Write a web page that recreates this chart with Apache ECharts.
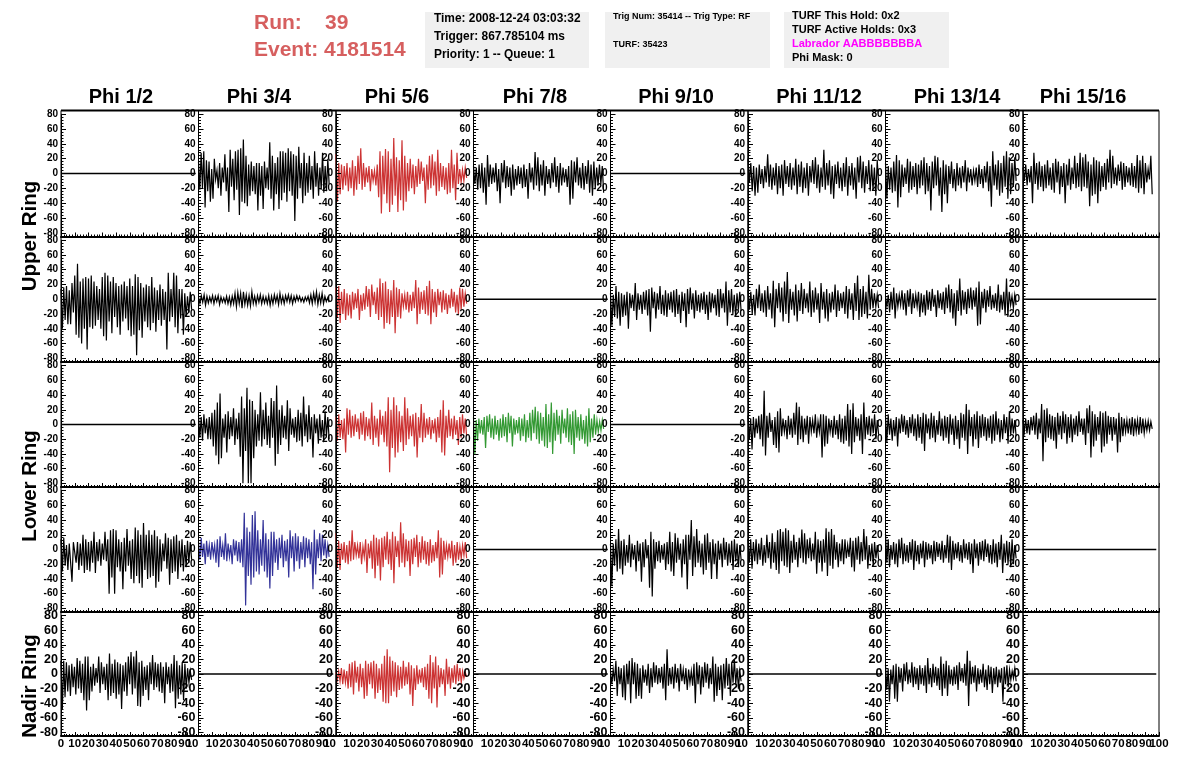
<!DOCTYPE html>
<html><head><meta charset="utf-8"><style>html,body{margin:0;padding:0;background:#fff}#c{width:1196px;height:772px}</style>
<script src="https://cdn.jsdelivr.net/npm/echarts@6/dist/echarts.min.js"></script></head><body><div id="c"></div>
<script>
const phiTitles=["Phi 1/2","Phi 3/4","Phi 5/6","Phi 7/8","Phi 9/10","Phi 11/12","Phi 13/14","Phi 15/16"];
const ringTitles=["Upper Ring","Lower Ring","Nadir Ring"];
const flat=[0,0];
const r1c2=[16,-22,28,-20,30,-46,18,-24,16,-38,6,-34,20,-8,4,-20,14,-30,8,-12,26,-24,8,-52,32,-18,20,-36,30,-22,32,-56,34,-38,46,-40,24,-44,12,-30,16,-24,10,-28,14,-50,14,-30,10,-48,16,-20,8,-22,42,-34,24,-50,14,-28,22,-48,30,-36,30,-26,28,-38,34,-24,30,-30,26,-64,24,-34,36,-20,14,-40,28,-30,14,-26,24,-22,10,-34,30,-18,14,-30,8,-22,28,-26,10,-24,20,-14];
const r1c3=[26,-38,14,-28,12,-22,10,-16,14,-24,8,-20,18,-30,10,-22,24,-14,34,-22,14,-18,8,-12,10,-24,6,-10,4,-16,12,-32,30,-54,24,-28,33,-40,30,-52,20,-42,48,-30,22,-52,18,-36,45,-50,24,-38,14,-24,20,-20,12,-28,10,-18,20,-14,16,-10,8,-40,12,-22,24,-20,26,-16,16,-30,32,-24,14,-18,10,-22,8,-28,14,-26,32,-20,12,-36,28,-14,6,-12,5,-10,8,-6];
const r1c4=[10,-14,8,-22,12,-20,14,-26,8,-42,25,-18,12,-14,8,-12,14,-24,6,-40,14,-12,18,-20,10,-18,8,-30,12,-22,6,-16,10,-14,8,-20,12,-18,6,-34,14,-12,8,-22,29,-16,22,-24,12,-16,18,-30,10,-14,6,-20,14,-12,22,-18,10,-26,14,-16,8,-12,6,-18,10,-42,18,-34,16,-12,22,-16,8,-20,14,-22,10,-14,18,-26,12,-30,16,-20,8,-16,12,-14,10,-26];
const r1c6=[20,-12,14,-24,10,-30,8,-26,12,-14,6,-20,10,-12,26,-18,12,-22,8,-16,14,-28,10,-20,12,-30,18,-14,10,-18,14,-22,8,-16,20,-28,12,-18,16,-26,8,-20,14,-30,10,-12,18,-14,22,-20,12,-26,8,-18,32,-22,14,-16,18,-28,10,-34,12,-14,16,-20,8,-24,14,-18,22,-30,10,-16,14,-22,8,-34,22,-12,24,-20,16,-26,10,-14,18,-24,12,-22,8,-30,18,-14];
const r1c7=[14,-34,10,-22,8,-26,16,-24,25,-46,18,-32,12,-18,8,-14,20,-26,16,-22,10,-18,14,-28,12,-20,18,-16,22,-28,14,-24,10,-50,16,-20,24,-16,22,-30,8,-52,18,-28,12,-40,10,-14,16,-20,6,-24,14,-16,8,-20,10,-12,18,-24,8,-12,6,-16,4,-10,8,-18,12,-14,6,-20,10,-12,16,-24,10,-45,30,-16,12,-22,18,-30,14,-26,24,-18,30,-34,22,-28,14,-18,22,-10];
const r1c8=[8,-10,12,-16,6,-12,10,-40,28,-14,14,-22,16,-18,10,-24,12,-20,18,-16,8,-22,14,-26,20,-12,16,-28,10,-18,14,-40,12,-16,20,-22,8,-14,24,-20,14,-18,28,-24,22,-18,26,-20,16,-44,12,-30,22,-28,18,-40,16,-24,10,-18,14,-22,20,-12,32,-20,24,-14,8,-16,12,-10,16,-22,14,-18,10,-12,8,-16,14,-18,10,-20,25,-26,18,-20,24,-28,14,-12,6,-8,24,-28];
const r2c1=[14,-40,16,-28,18,-34,12,-34,22,-18,32,-48,48,-52,24,-60,28,-40,30,-68,28,-38,32,-40,24,-36,18,-28,14,-40,30,-50,36,-56,32,-30,24,-46,30,-24,22,-38,18,-48,20,-30,24,-26,18,-42,28,-50,18,-48,34,-76,30,-42,22,-52,16,-30,20,-38,18,-42,30,-32,16,-44,12,-28,20,-36,14,-28,10,-68,36,-30,14,-24,36,-38,32,-46,14,-26,14,-48,8,-24,4,-18,10,-14];
const r2c2=[3,-6,5,-4,6,-8,4,-5,3,-4,5,-6,4,-3,5,-7,3,-4,2,-5,4,-6,3,-8,4,-6,8,-10,9,-6,8,-12,10,-7,6,-8,5,-9,10,-6,4,-7,5,-4,6,-6,4,-5,3,-6,5,-8,4,-6,6,-4,5,-7,8,-5,4,-6,5,-3,6,-4,5,-6,4,-3,5,-2,4,-3,2,-4,3,-2,4,-5,6,-6,8,-4,10,-7,6,-5,8,-6,4,-3,2,-4];
const r2c3=[16,-24,18,-32,10,-20,14,-28,8,-22,6,-26,10,-14,8,-12,14,-28,6,-16,8,-14,18,-10,14,-24,20,-8,10,-20,16,-28,28,-24,22,-40,24,-32,14,-34,12,-24,26,-46,16,-24,14,-26,8,-10,6,-14,10,-18,6,-16,10,-12,26,-34,16,-20,10,-14,12,-20,18,-22,25,-34,14,-18,10,-24,14,-8,10,-18,12,-14,8,-20,6,-12,14,-10,10,-18,6,-20,16,-14,14,-10,8,-6];
const r2c5=[8,-36,6,-24,18,-26,10,-36,8,-24,6,-22,10,-40,8,-12,6,-16,22,-28,8,-14,6,-20,10,-14,12,-22,14,-44,16,-12,10,-26,8,-14,18,-20,6,-22,12,-24,8,-14,10,-18,12,-24,14,-20,6,-32,10,-16,8,-38,14,-20,16,-14,8,-26,12,-16,6,-18,8,-14,10,-20,6,-28,10,-18,8,-12,6,-22,14,-24,14,-12,8,-18,24,-36,12,-18,14,-20,6,-24,8,-14,10,-16];
const r2c6=[12,-14,10,-20,6,-22,14,-12,20,-16,8,-18,12,-24,18,-14,8,-26,25,-38,14,-12,22,-18,16,-30,24,-20,37,-32,14,-14,10,-22,20,-30,12,-16,22,-20,14,-12,8,-18,24,-24,12,-18,16,-14,8,-32,22,-14,10,-26,14,-30,8,-18,10,-14,20,-24,12,-16,8,-12,10,-20,18,-26,14,-14,8,-28,22,-16,32,-28,14,-24,18,-20,10,-26,33,-14,14,-12,8,-10,6,-12];
const r2c7=[4,-10,6,-18,10,-14,16,-26,8,-10,6,-8,12,-14,8,-22,12,-10,14,-20,8,-12,6,-10,10,-24,8,-18,6,-22,12,-14,10,-16,14,-10,6,-24,12,-12,8,-14,10,-20,16,-12,20,-18,14,-26,8,-36,12,-16,28,-22,12,-14,10,-20,14,-12,16,-14,12,-10,16,-36,24,-34,10,-12,14,-18,12,-10,18,-14,6,-12,8,-16,20,-18,6,-14,10,-22,28,-24,10,-8,4,-12,6,-8];
const r3c2=[12,-18,10,-22,14,-12,8,-20,10,-20,16,-30,20,-42,30,-54,42,-46,8,-18,14,-38,18,-20,10,-16,22,-28,8,-20,16,-44,38,-80,22,-36,50,-80,34,-80,32,-46,20,-30,14,-22,44,-30,20,-20,30,-28,12,-32,36,-18,32,-56,53,-40,20,-28,26,-18,12,-20,33,-36,22,-14,8,-18,10,-24,20,-22,16,-30,38,-16,14,-24,26,-20,10,-45,14,-12,8,-26,14,-18,6,-24,18,-16,10,-20];
const r3c3=[10,-22,14,-18,6,-20,8,-38,22,-14,20,-18,12,-16,14,-10,8,-20,16,-14,18,-22,10,-16,8,-20,30,-28,12,-18,8,-30,20,-14,12,-24,18,-30,37,-65,20,-32,37,-45,26,-38,18,-24,12,-36,37,-28,22,-20,12,-16,14,-30,16,-45,10,-18,28,-24,16,-18,8,-14,10,-20,6,-12,8,-24,10,-18,20,-38,33,-42,12,-18,20,-16,8,-20,12,-14,6,-28,10,-18,14,-12,8,-16];
const r3c4=[10,-40,6,-22,8,-12,6,-14,10,-32,12,-10,14,-18,8,-20,12,-14,6,-22,8,-18,14,-16,10,-24,16,-12,12,-30,8,-14,6,-12,10,-22,8,-16,14,-24,6,-18,16,-22,20,-12,24,-20,18,-26,16,-22,10,-30,28,-32,14,-24,30,-40,16,-22,20,-14,12,-26,20,-12,8,-18,22,-24,14,-28,18,-40,20,-18,10,-22,14,-20,6,-26,12,-30,22,-24,8,-18,14,-14,6,-10,4,-8,6,-6];
const r3c6=[12,-20,8,-34,10,-18,8,-12,12,-20,14,-30,46,-42,12,-18,16,-10,6,-28,10,-32,18,-38,22,-16,8,-10,6,-20,12,-14,8,-18,16,-14,30,-28,24,-20,12,-24,8,-14,12,-26,10,-10,6,-12,14,-18,4,-10,14,-45,14,-30,12,-26,8,-10,6,-18,12,-14,6,-20,14,-24,8,-26,12,-22,28,-30,20,-40,29,-24,10,-16,8,-22,14,-40,30,-20,10,-14,12,-16,8,-12,14,-20,6,-14];
const r3c7=[12,-24,14,-14,8,-22,6,-16,10,-30,8,-12,14,-10,12,-14,6,-18,10,-12,14,-16,8,-22,14,-18,10,-26,16,-36,14,-12,8,-20,16,-18,12,-24,6,-14,18,-16,8,-22,12,-18,10,-26,14,-14,8,-28,12,-20,6,-33,16,-18,14,-22,28,-40,20,-16,10,-30,14,-20,18,-32,12,-18,14,-16,10,-22,8,-18,12,-26,14,-22,18,-14,8,-24,6,-20,14,-12,10,-26,18,-14,8,-12,6,-16];
const r3c8=[6,-10,8,-12,6,-14,10,-8,12,-14,16,-20,8,-12,28,-50,20,-24,22,-18,14,-20,12,-22,10,-33,16,-14,12,-20,18,-12,14,-26,10,-18,14,-24,8,-14,12,-16,18,-10,8,-14,8,-28,22,-12,26,-45,18,-30,14,-22,10,-14,18,-38,16,-30,18,-26,12,-14,10,-22,10,-14,8,-38,16,-24,10,-16,8,-10,6,-12,8,-14,10,-16,8,-10,6,-14,10,-12,8,-12,4,-8,5,-8,4,-6];
const r4c1=[14,-30,16,-22,6,-28,8,-18,-44,10,12,-18,10,-28,8,-22,20,-32,14,-28,10,-30,12,-18,24,-32,10,-16,14,-22,8,-14,24,-16,14,-60,26,-38,28,-60,26,-24,14,-30,10,-54,16,-30,28,-22,12,-40,14,-46,30,-36,26,-46,20,-52,36,-28,20,-40,26,-38,20,-36,26,-52,18,-44,14,-30,8,-16,22,-26,16,-48,14,-32,18,-30,20,-40,12,-24,14,-30,6,-24,12,-18,10,-14];
const r4c2=[10,-14,16,-10,8,-20,12,-10,6,-14,10,-8,6,-18,14,-24,18,-10,6,-14,22,-16,8,-10,6,-20,14,-8,12,-16,10,-18,14,-24,50,-76,30,-36,24,-48,47,-38,52,-30,26,-34,14,-22,40,-30,22,-38,14,-53,24,-36,24,-18,14,-28,16,-12,20,-24,12,-16,14,-38,26,-12,18,-30,22,-16,18,-26,10,-14,18,-24,16,-12,14,-20,10,-54,27,-34,14,-12,22,-16,20,-8,14,-12,6,-10];
const r4c3=[22,-24,12,-28,8,-14,10,-18,6,-20,12,-16,26,-14,10,-8,6,-12,10,-20,4,-10,14,-32,8,-12,12,-26,20,-39,16,-22,14,-42,16,-24,18,-14,24,-20,14,-28,24,-46,18,-10,12,-24,37,-18,22,-24,14,-16,12,-36,14,-20,16,-10,20,-24,10,-18,18,-14,12,-20,10,-22,14,-18,6,-16,10,-12,26,-38,16,-34,12,-14,6,-10,8,-12,12,-22,6,-18,10,-14,4,-12,6,-8,10,-12];
const r4c5=[8,-50,8,-22,14,-30,28,-26,12,-34,14,-22,6,-18,20,-24,8,-14,6,-30,12,-16,8,-44,10,-24,14,-12,6,-52,24,-64,14,-26,10,-16,12,-18,6,-14,8,-28,10,-20,24,-30,10,-36,22,-18,16,-14,8,-38,14,-20,20,-54,20,-14,40,-36,18,-24,28,-18,12,-24,8,-34,20,-28,22,-18,10,-40,14,-20,8,-40,12,-14,8,-24,16,-14,10,-22,8,-18,12,-28,14,-16,8,-24,6,-14];
const r4c6=[14,-18,14,-26,10,-16,14,-20,8,-14,16,-22,6,-18,20,-12,10,-26,22,-18,10,-28,26,-33,28,-16,24,-22,29,-24,26,-32,12,-18,20,-14,10,-24,16,-12,27,-18,22,-20,14,-12,16,-16,8,-14,24,-33,14,-18,12,-30,14,-18,29,-36,24,-22,28,-26,20,-14,10,-24,8,-16,14,-20,14,-12,6,-10,16,-24,12,-30,16,-14,18,-20,10,-16,28,-14,18,-26,6,-16,8,-22,10,-12,6,-14];
const r4c7=[21,-18,14,-24,6,-14,10,-20,8,-24,14,-12,16,-20,8,-16,6,-18,10,-14,14,-28,12,-16,6,-20,8,-12,12,-24,10,-14,8,-12,6,-20,12,-16,10,-10,8,-14,12,-18,6,-12,20,-18,18,-28,12,-14,8,-12,10,-16,6,-18,14,-12,8,-14,10,-20,8,-32,14,-12,8,-22,10,-14,12,-16,14,-10,8,-18,6,-20,14,-18,8,-24,10,-14,20,-32,8,-18,12,-20,10,-24,14,-20,6,-12];
const r5c1=[18,-48,18,-32,16,-24,12,-30,14,-18,10,-28,22,-20,18,-26,14,-36,24,-50,24,-36,10,-24,14,-16,8,-12,24,-26,16,-14,10,-22,14,-36,28,-30,14,-26,20,-34,16,-28,14,-48,12,-24,16,-30,24,-14,30,-28,24,-20,32,-44,16,-45,18,-30,10,-22,12,-36,16,-14,26,-22,16,-18,14,-24,16,-26,10,-40,16,-14,10,-26,14,-24,26,-47,18,-34,12,-28,16,-36,14,-20,8,-12,4,-8];
const r5c3=[2,-8,4,-10,8,-14,6,-12,4,-20,14,-18,16,-28,18,-12,10,-24,14,-18,8,-34,18,-30,14,-14,16,-20,18,-34,14,-26,8,-22,14,-38,25,-40,34,-40,24,-30,18,-24,16,-32,12,-22,10,-20,18,-16,10,-14,16,-28,12,-44,8,-22,12,-14,6,-12,8,-18,10,-22,14,-34,26,-40,16,-20,24,-46,12,-18,8,-14,6,-30,21,-14,10,-20,8,-12,12,-14,14,-10,8,-12,4,-6,2,-4];
const r5c5=[4,-14,6,-10,18,-30,10,-14,8,-32,12,-36,14,-14,18,-40,22,-14,16,-34,14,-30,8,-34,12,-12,6,-16,14,-26,8,-18,16,-12,12,-14,8,-12,10,-20,14,-36,34,-16,8,-14,10,-20,14,-12,8,-24,14,-10,6,-14,8,-22,6,-12,4,-16,14,-40,16,-14,12,-28,10,-18,16,-12,14,-20,8,-14,24,-38,14,-30,10,-22,12,-36,14,-20,22,-16,14,-30,16,-12,20,-14,8,-20,4,-10];
const r5c7=[12,-22,8,-38,6,-14,12,-34,14,-38,10,-12,8,-24,14,-10,16,-14,6,-12,16,-18,10,-14,8,-22,12,-14,8,-16,12,-26,22,-14,8,-18,14,-12,10,-16,8,-22,24,-30,14,-20,18,-30,12,-14,6,-16,10,-14,12,-22,16,-10,8,-12,14,-16,32,-44,18,-14,10,-12,12,-24,8,-14,6,-12,14,-18,6,-22,12,-14,10,-26,8,-14,10,-18,6,-12,8,-38,10,-14,12,-18,6,-8,4,-6,8,-10];

const black="#000",red="#cc3333",green="#339933",blue="#333399";
const rows=[
 [[flat,black],[r1c2,black],[r1c3,red],[r1c4,black],[flat,black],[r1c6,black],[r1c7,black],[r1c8,black]],
 [[r2c1,black],[r2c2,black],[r2c3,red],[flat,black],[r2c5,black],[r2c6,black],[r2c7,black],[flat,black]],
 [[flat,black],[r3c2,black],[r3c3,red],[r3c4,green],[flat,black],[r3c6,black],[r3c7,black],[r3c8,black]],
 [[r4c1,black],[r4c2,blue],[r4c3,red],[flat,black],[r4c5,black],[r4c6,black],[r4c7,black],[flat,black]],
 [[r5c1,black],[flat,black],[r5c3,red],[flat,black],[r5c5,black],[flat,black],[r5c7,black],[flat,black]]
];
const colLeft=[61,198.5,336,473.5,610.5,748,885.5,1023,1159];
const rowTop=[110.5,236.5,362,487,612,736];
const titleX=[121,259,397,535,676,819,957,1083];
const F="'Liberation Sans',Arial,sans-serif";
const grid=[],xAxis=[],yAxis=[],series=[];
rows.forEach((row,r)=>{row.forEach(([vals,color],c)=>{
  const first=c===0, bottom=r===4, isFlat=vals===flat;
  const L=colLeft[c],W=colLeft[c+1]-L,T=rowTop[r],H=rowTop[r+1]-T,inset=H*5/170;
  // data panel: y spans -85..85, hidden y scale; x axis and frame shown
  const g=grid.length;
  grid.push({left:L,top:T,width:W,height:H,show:true,borderColor:"#000",borderWidth:1});
  xAxis.push({type:"value",gridIndex:g,min:0,max:100,interval:10,position:"bottom",z:5,
    axisLine:{show:true,onZero:false,lineStyle:{color:"#000",width:2}},
    axisTick:{show:true,inside:true,length:4,lineStyle:{color:"#000",width:1}},
    minorTick:{show:true,splitNumber:5,length:2,lineStyle:{color:"#000",width:1}},
    splitLine:{show:false},
    axisLabel:{show:bottom,margin:2,color:"#000",fontFamily:F,fontWeight:"bold",fontSize:11.5,showMinLabel:first,showMaxLabel:false}});
  yAxis.push({type:"value",gridIndex:g,min:-85,max:85,show:false});
  // tick panel: the -80..80 span of the same y scale, carries the y ticks and labels
  const t=grid.length;
  grid.push({left:L,top:T+inset,width:W,height:H-2*inset,show:false});
  xAxis.push({type:"value",gridIndex:t,min:0,max:100,show:false});
  yAxis.push({type:"value",gridIndex:t,min:-80,max:80,interval:20,position:"left",z:5,
    axisLine:{show:true,onZero:false,lineStyle:{color:"#000",width:1}},
    axisTick:{show:true,inside:true,length:5,lineStyle:{color:"#000",width:1}},
    minorTick:{show:true,splitNumber:5,length:2.5,lineStyle:{color:"#000",width:1}},
    splitLine:{show:false},
    axisLabel:{show:true,margin:3,color:"#000",fontFamily:F,fontWeight:"bold",fontSize:bottom?12.5:10}});
  const xEnd=isFlat?98:95;
  series.push({type:"line",xAxisIndex:g,yAxisIndex:g,showSymbol:false,silent:true,animation:false,z:2,
    lineStyle:{color,width:isFlat?1.4:1.2,join:"miter"},
    data:vals.map((v,i)=>[i*xEnd/(vals.length-1),v])});
});});
const gfx=[];
const txt=(t,x,y,size,color,extra)=>gfx.push(Object.assign({type:"text",x,y,z:20,style:{text:t,fill:color||"#000",font:"bold "+size+"px "+F,verticalAlign:"middle",align:"left"}},extra||{}));
const box=(x,y,w,h)=>gfx.push({type:"rect",z:10,shape:{x,y,width:w,height:h},style:{fill:"#f0f0f0"}});
box(425,12,164,56);box(605,12,165,56);box(784,12,165,56);
const runC="#d65f5f";
txt("Run:",254,23,21,runC);txt("39",325,23,21,runC);txt("Event: 4181514",254,50,21,runC);
txt("Time: 2008-12-24 03:03:32",434,19,11.9);txt("Trigger: 867.785104 ms",434,37,11.9);txt("Priority: 1 -- Queue: 1",434,55,11.9);
txt("Trig Num: 35414 -- Trig Type: RF",613,17,9);txt("TURF: 35423",613,45,9);
txt("TURF This Hold: 0x2",792,16,11);txt("TURF Active Holds: 0x3",792,30,11);txt("Labrador AABBBBBBBA",792,44,11,"#ff00ff");txt("Phi Mask: 0",792,58,11);
phiTitles.forEach((t,i)=>gfx.push({type:"text",x:titleX[i],y:97,z:20,style:{text:t,fill:"#000",font:"bold 20px "+F,align:"center",verticalAlign:"middle"}}));
[236,486,686].forEach((y,i)=>gfx.push({type:"text",x:30,y,rotation:Math.PI/2,z:20,style:{text:ringTitles[i],fill:"#000",font:"bold 20.5px "+F,align:"center",verticalAlign:"middle"}}));
gfx.push({type:"line",z:20,shape:{x1:61,y1:110.5,x2:1159,y2:110.5},style:{stroke:"#000",lineWidth:2}});
colLeft.slice(1).forEach((x,i)=>gfx.push({type:"text",x,y:743.5,z:20,style:{text:i===7?"100":"10",fill:"#000",font:"bold 11.5px "+F,align:i===7?"center":"right",verticalAlign:"middle"}}));
const chart=echarts.init(document.getElementById("c"),null,{renderer:"canvas"});
chart.setOption({animation:false,backgroundColor:"#fff",grid,xAxis,yAxis,series,graphic:{elements:gfx}});
</script></body></html>
